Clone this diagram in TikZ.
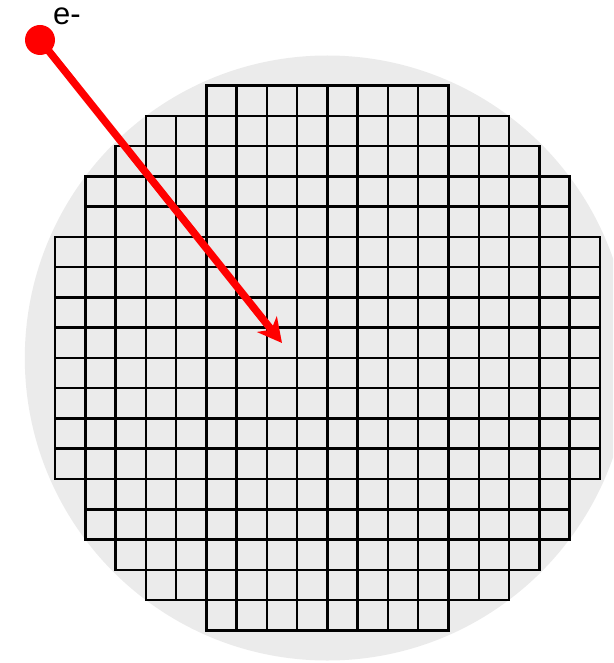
\documentclass[tikz,border=0pt]{standalone}
\usepackage{fontspec}
\setmainfont{Liberation Sans}
\usepackage{tikz}
\usetikzlibrary{arrows.meta, positioning}
\usepackage{xcolor}
\definecolor{WaferGray}{RGB}{235,235,235}
\definecolor{BeamRed}{RGB}{255,0,0}

\tikzset{
  pixel/.style={draw=black, line width=2.5pt, fill=WaferGray},
  beam/.style={draw=BeamRed, line width=7.5pt,
               -{Stealth[length=24pt, width=25pt, inset=7pt]}},
  electron/.style={circle, fill=BeamRed, minimum size=30pt, inner sep=0pt}
}

\begin{document}
\begin{tikzpicture}[x=1pt, y=-1pt]
  \useasboundingbox (0,0) rectangle (613,663);
  \clip (0,0) rectangle (613,663);

  % wafer
  \fill[WaferGray] (327.3,358) circle[radius=302.5];

  % detector cells, row / first column / last column
  \foreach \r/\a/\b in {0/5/12, 1/3/14, 2/2/15, 3/1/16, 4/1/16,
                        5/0/17, 6/0/17, 7/0/17, 8/0/17, 9/0/17, 10/0/17, 11/0/17, 12/0/17,
                        13/1/16, 14/1/16, 15/2/15, 16/3/14, 17/5/12}
    \foreach \c in {\a,...,\b}
      \draw[pixel] ({55+\c*30.27},{85.5+\r*30.27}) rectangle ++(30.27,30.27);

  % incoming electron
  \node[electron] (eminus) at (40,40) {};
  \node[anchor=base west, inner sep=0pt, font=\fontsize{31}{36}\selectfont]
    (elabel) at (53,24.5) {e-};
  \coordinate (hit) at (282,343);
  \draw[beam] (eminus.center) -- (hit);
\end{tikzpicture}
\end{document}
